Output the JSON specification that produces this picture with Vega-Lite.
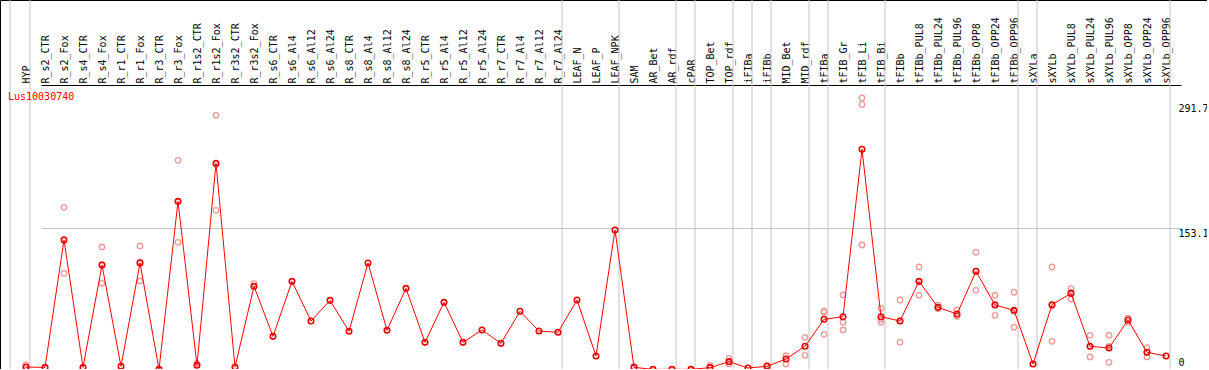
{
  "$schema": "https://vega.github.io/schema/vega-lite/v6.json",
  "width": 1207,
  "height": 369,
  "autosize": {"type": "none"},
  "padding": 0,
  "background": "white",
  "title": {"text": "Lus10030740", "anchor": "start", "frame": "group", "orient": "top", "offset": -102, "dx": 8, "baseline": "top", "color": "#ff0000", "font": "DejaVu Sans Mono", "fontSize": 10, "fontWeight": "normal"},
  "config": {
    "view": {"stroke": "#000000", "strokeWidth": 1},
    "font": "DejaVu Sans Mono"
  },
  "datasets": {
    "seps": [
      {"sample": "HYP"}, {"sample": "R_r7_Al24"}, {"sample": "LEAF_NPK"}, {"sample": "AR_rdf"}, {"sample": "cPAR"},
      {"sample": "TOP_rdf"}, {"sample": "iFIBa"}, {"sample": "iFIBb"}, {"sample": "MID_rdf"}, {"sample": "tFIBa"},
      {"sample": "tFIB_Bi"}, {"sample": "tFIBb_OPP96"}, {"sample": "sXYLa"}, {"sample": "sXYLb_OPP96"}
    ],
    "expr": [
      {"sample": "HYP", "kind": "m", "value": -1.5},
      {"sample": "HYP", "kind": "r", "value": 1.0},
      {"sample": "HYP", "kind": "r", "value": -1.5},
      {"sample": "R_s2_CTR", "kind": "m", "value": -1.9},
      {"sample": "R_s2_Fox", "kind": "m", "value": 140.1},
      {"sample": "R_s2_Fox", "kind": "r", "value": 176.5},
      {"sample": "R_s2_Fox", "kind": "r", "value": 102.9},
      {"sample": "R_s2_Fox", "kind": "r", "value": 140.9},
      {"sample": "R_s4_CTR", "kind": "m", "value": -1.9},
      {"sample": "R_s4_Fox", "kind": "m", "value": 112.2},
      {"sample": "R_s4_Fox", "kind": "r", "value": 132.3},
      {"sample": "R_s4_Fox", "kind": "r", "value": 91.8},
      {"sample": "R_s4_Fox", "kind": "r", "value": 112.5},
      {"sample": "R_r1_CTR", "kind": "m", "value": -0.7},
      {"sample": "R_r1_Fox", "kind": "m", "value": 114.5},
      {"sample": "R_r1_Fox", "kind": "r", "value": 133.4},
      {"sample": "R_r1_Fox", "kind": "r", "value": 94.4},
      {"sample": "R_r1_Fox", "kind": "r", "value": 115.7},
      {"sample": "R_r3_CTR", "kind": "m", "value": -4.1},
      {"sample": "R_r3_Fox", "kind": "m", "value": 183.2},
      {"sample": "R_r3_Fox", "kind": "r", "value": 228.9},
      {"sample": "R_r3_Fox", "kind": "r", "value": 137.5},
      {"sample": "R_r3_Fox", "kind": "r", "value": 183.2},
      {"sample": "R_r1s2_CTR", "kind": "m", "value": 0.4},
      {"sample": "R_r1s2_CTR", "kind": "r", "value": 2.6},
      {"sample": "R_r1s2_Fox", "kind": "m", "value": 225.6},
      {"sample": "R_r1s2_Fox", "kind": "r", "value": 279.1},
      {"sample": "R_r1s2_Fox", "kind": "r", "value": 173.2},
      {"sample": "R_r1s2_Fox", "kind": "r", "value": 224.5},
      {"sample": "R_r3s2_CTR", "kind": "m", "value": -1.5},
      {"sample": "R_r3s2_Fox", "kind": "m", "value": 88.4},
      {"sample": "R_r3s2_Fox", "kind": "r", "value": 91.4},
      {"sample": "R_s6_CTR", "kind": "m", "value": 32.7},
      {"sample": "R_s6_Al4", "kind": "m", "value": 94.0},
      {"sample": "R_s6_Al12", "kind": "m", "value": 49.8},
      {"sample": "R_s6_Al24", "kind": "m", "value": 72.8},
      {"sample": "R_s8_CTR", "kind": "m", "value": 38.3},
      {"sample": "R_s8_Al4", "kind": "m", "value": 114.5},
      {"sample": "R_s8_Al12", "kind": "m", "value": 39.4},
      {"sample": "R_s8_Al24", "kind": "m", "value": 86.2},
      {"sample": "R_r5_CTR", "kind": "m", "value": 26.0},
      {"sample": "R_r5_Al4", "kind": "m", "value": 70.6},
      {"sample": "R_r5_Al12", "kind": "m", "value": 26.0},
      {"sample": "R_r5_Al24", "kind": "m", "value": 39.8},
      {"sample": "R_r7_CTR", "kind": "m", "value": 24.9},
      {"sample": "R_r7_Al4", "kind": "m", "value": 60.6},
      {"sample": "R_r7_Al12", "kind": "m", "value": 38.6},
      {"sample": "R_r7_Al24", "kind": "m", "value": 37.2},
      {"sample": "LEAF_N", "kind": "m", "value": 73.2},
      {"sample": "LEAF_P", "kind": "m", "value": 10.8},
      {"sample": "LEAF_NPK", "kind": "m", "value": 151.2},
      {"sample": "SAM", "kind": "m", "value": -1.9},
      {"sample": "SAM", "kind": "r", "value": -1.1},
      {"sample": "AR_Bet", "kind": "m", "value": -4.1},
      {"sample": "AR_rdf", "kind": "m", "value": -4.1},
      {"sample": "cPAR", "kind": "m", "value": -4.1},
      {"sample": "TOP_Bet", "kind": "m", "value": -2.2},
      {"sample": "TOP_Bet", "kind": "r", "value": 0.4},
      {"sample": "TOP_Bet", "kind": "r", "value": -1.1},
      {"sample": "TOP_rdf", "kind": "m", "value": 4.5},
      {"sample": "TOP_rdf", "kind": "r", "value": 8.2},
      {"sample": "TOP_rdf", "kind": "r", "value": 1.9},
      {"sample": "iFIBa", "kind": "m", "value": -2.6},
      {"sample": "iFIBb", "kind": "m", "value": -0.7},
      {"sample": "iFIBb", "kind": "r", "value": 0.4},
      {"sample": "MID_Bet", "kind": "m", "value": 7.4},
      {"sample": "MID_Bet", "kind": "r", "value": 11.1},
      {"sample": "MID_Bet", "kind": "r", "value": 1.9},
      {"sample": "MID_rdf", "kind": "m", "value": 21.6},
      {"sample": "MID_rdf", "kind": "r", "value": 31.6},
      {"sample": "MID_rdf", "kind": "r", "value": 11.5},
      {"sample": "tFIBa", "kind": "m", "value": 51.7},
      {"sample": "tFIBa", "kind": "r", "value": 60.9},
      {"sample": "tFIBa", "kind": "r", "value": 59.5},
      {"sample": "tFIBa", "kind": "r", "value": 34.9},
      {"sample": "tFIB_Gr", "kind": "m", "value": 54.6},
      {"sample": "tFIB_Gr", "kind": "r", "value": 78.8},
      {"sample": "tFIB_Gr", "kind": "r", "value": 48.3},
      {"sample": "tFIB_Gr", "kind": "r", "value": 39.8},
      {"sample": "tFIB_Li", "kind": "m", "value": 241.2},
      {"sample": "tFIB_Li", "kind": "r", "value": 298.4},
      {"sample": "tFIB_Li", "kind": "r", "value": 291.0},
      {"sample": "tFIB_Li", "kind": "r", "value": 134.5},
      {"sample": "tFIB_Bi", "kind": "m", "value": 54.6},
      {"sample": "tFIB_Bi", "kind": "r", "value": 63.9},
      {"sample": "tFIB_Bi", "kind": "r", "value": 48.3},
      {"sample": "tFIB_Bi", "kind": "r", "value": 51.6},
      {"sample": "tFIBb", "kind": "m", "value": 49.8},
      {"sample": "tFIBb", "kind": "r", "value": 73.2},
      {"sample": "tFIBb", "kind": "r", "value": 26.0},
      {"sample": "tFIBb", "kind": "r", "value": 50.0},
      {"sample": "tFIBb_PUL8", "kind": "m", "value": 94.0},
      {"sample": "tFIBb_PUL8", "kind": "r", "value": 110.0},
      {"sample": "tFIBb_PUL8", "kind": "r", "value": 78.4},
      {"sample": "tFIBb_PUL8", "kind": "r", "value": 93.6},
      {"sample": "tFIBb_PUL24", "kind": "m", "value": 65.0},
      {"sample": "tFIBb_PUL24", "kind": "r", "value": 67.6},
      {"sample": "tFIBb_PUL24", "kind": "r", "value": 63.9},
      {"sample": "tFIBb_PUL24", "kind": "r", "value": 63.6},
      {"sample": "tFIBb_PUL96", "kind": "m", "value": 57.6},
      {"sample": "tFIBb_PUL96", "kind": "r", "value": 62.1},
      {"sample": "tFIBb_PUL96", "kind": "r", "value": 55.7},
      {"sample": "tFIBb_PUL96", "kind": "r", "value": 55.0},
      {"sample": "tFIBb_OPP8", "kind": "m", "value": 105.2},
      {"sample": "tFIBb_OPP8", "kind": "r", "value": 126.3},
      {"sample": "tFIBb_OPP8", "kind": "r", "value": 84.0},
      {"sample": "tFIBb_OPP8", "kind": "r", "value": 105.3},
      {"sample": "tFIBb_OPP24", "kind": "m", "value": 67.6},
      {"sample": "tFIBb_OPP24", "kind": "r", "value": 78.4},
      {"sample": "tFIBb_OPP24", "kind": "r", "value": 56.1},
      {"sample": "tFIBb_OPP24", "kind": "r", "value": 68.3},
      {"sample": "tFIBb_OPP96", "kind": "m", "value": 61.7},
      {"sample": "tFIBb_OPP96", "kind": "r", "value": 81.8},
      {"sample": "tFIBb_OPP96", "kind": "r", "value": 42.7},
      {"sample": "tFIBb_OPP96", "kind": "r", "value": 60.6},
      {"sample": "sXYLa", "kind": "m", "value": 1.9},
      {"sample": "sXYLb", "kind": "m", "value": 68.0},
      {"sample": "sXYLb", "kind": "r", "value": 110.0},
      {"sample": "sXYLb", "kind": "r", "value": 27.1},
      {"sample": "sXYLb", "kind": "r", "value": 67.0},
      {"sample": "sXYLb_PUL8", "kind": "m", "value": 80.6},
      {"sample": "sXYLb_PUL8", "kind": "r", "value": 85.8},
      {"sample": "sXYLb_PUL8", "kind": "r", "value": 74.3},
      {"sample": "sXYLb_PUL8", "kind": "r", "value": 81.8},
      {"sample": "sXYLb_PUL24", "kind": "m", "value": 21.6},
      {"sample": "sXYLb_PUL24", "kind": "r", "value": 33.8},
      {"sample": "sXYLb_PUL24", "kind": "r", "value": 9.7},
      {"sample": "sXYLb_PUL24", "kind": "r", "value": 21.3},
      {"sample": "sXYLb_PUL96", "kind": "m", "value": 19.7},
      {"sample": "sXYLb_PUL96", "kind": "r", "value": 33.8},
      {"sample": "sXYLb_PUL96", "kind": "r", "value": 3.7},
      {"sample": "sXYLb_PUL96", "kind": "r", "value": 21.6},
      {"sample": "sXYLb_OPP8", "kind": "m", "value": 50.9},
      {"sample": "sXYLb_OPP8", "kind": "r", "value": 53.1},
      {"sample": "sXYLb_OPP8", "kind": "r", "value": 48.3},
      {"sample": "sXYLb_OPP8", "kind": "r", "value": 51.0},
      {"sample": "sXYLb_OPP24", "kind": "m", "value": 14.9},
      {"sample": "sXYLb_OPP24", "kind": "r", "value": 20.1},
      {"sample": "sXYLb_OPP24", "kind": "r", "value": 9.7},
      {"sample": "sXYLb_OPP24", "kind": "r", "value": 14.9},
      {"sample": "sXYLb_OPP96", "kind": "m", "value": 10.8}
    ]
  },
  "encoding": {
    "x": {
      "field": "sample",
      "type": "ordinal",
      "sort": null,
      "scale": {
        "type": "point",
        "domain": ["HYP", "R_s2_CTR", "R_s2_Fox", "R_s4_CTR", "R_s4_Fox", "R_r1_CTR", "R_r1_Fox", "R_r3_CTR", "R_r3_Fox", "R_r1s2_CTR", "R_r1s2_Fox", "R_r3s2_CTR", "R_r3s2_Fox", "R_s6_CTR", "R_s6_Al4", "R_s6_Al12", "R_s6_Al24", "R_s8_CTR", "R_s8_Al4", "R_s8_Al12", "R_s8_Al24", "R_r5_CTR", "R_r5_Al4", "R_r5_Al12", "R_r5_Al24", "R_r7_CTR", "R_r7_Al4", "R_r7_Al12", "R_r7_Al24", "LEAF_N", "LEAF_P", "LEAF_NPK", "SAM", "AR_Bet", "AR_rdf", "cPAR", "TOP_Bet", "TOP_rdf", "iFIBa", "iFIBb", "MID_Bet", "MID_rdf", "tFIBa", "tFIB_Gr", "tFIB_Li", "tFIB_Bi", "tFIBb", "tFIBb_PUL8", "tFIBb_PUL24", "tFIBb_PUL96", "tFIBb_OPP8", "tFIBb_OPP24", "tFIBb_OPP96", "sXYLa", "sXYLb", "sXYLb_PUL8", "sXYLb_PUL24", "sXYLb_PUL96", "sXYLb_OPP8", "sXYLb_OPP24", "sXYLb_OPP96"],
        "range": [26, 1166],
        "padding": 0,
        "round": false
      },
      "axis": {
        "orient": "top",
        "offset": -85,
        "title": null,
        "grid": false,
        "ticks": false,
        "domain": false,
        "labelAngle": 270,
        "labelAlign": "left",
        "labelBaseline": "middle",
        "labelPadding": 2,
        "labelFont": "DejaVu Sans Mono",
        "labelFontSize": 10,
        "labelColor": "#000000",
        "labelOverlap": false,
        "labelLimit": 200
      }
    }
  },
  "layer": [
    {
      "data": {"name": "seps"},
      "mark": {"type": "rule", "color": "#c4c4c4", "strokeWidth": 1, "xOffset": 4},
      "encoding": {}
    },
    {
      "data": {"values": [{"sample": "HYP"}]},
      "mark": {"type": "rule", "color": "#c4c4c4", "strokeWidth": 1, "xOffset": -16},
      "encoding": {}
    },
    {
      "data": {"name": "expr"},
      "encoding": {
        "y": {
          "field": "value",
          "type": "quantitative",
          "scale": {"domain": [-3.7, 407.6], "nice": false, "zero": false},
          "axis": {
            "orient": "right",
            "offset": -37,
            "title": null,
            "values": [0, 153.1, 291.7, 312.9],
            "labelExpr": "datum.value === 0 ? '0' : (datum.value > 300 ? '' : format(datum.value, '.1f'))",
            "domain": false,
            "ticks": false,
            "tickSize": 0,
            "labelPadding": 8,
            "labelAlign": "left",
            "labelBaseline": {"condition": {"test": "datum.value === 0", "value": "alphabetic"}, "value": "top"},
            "labelFont": "DejaVu Sans Mono",
            "labelFontSize": 10,
            "labelColor": "#000000",
            "grid": true,
            "gridWidth": 1,
            "gridColor": {"condition": {"test": "datum.value > 300", "value": "#000000"}, "value": "#c4c4c4"},
            "gridOpacity": {"condition": {"test": "datum.value === 153.1 || datum.value > 300", "value": 1}, "value": 0}
          }
        }
      },
      "layer": [
        {
          "transform": [{"filter": "datum.kind === 'r'"}],
          "mark": {"type": "point", "shape": "circle", "filled": false, "size": 30, "strokeWidth": 1.3, "color": "#f09898", "opacity": 1}
        },
        {
          "transform": [{"filter": "datum.kind === 'm'"}],
          "mark": {"type": "line", "color": "#ff0000", "strokeWidth": 1}
        },
        {
          "transform": [{"filter": "datum.kind === 'm'"}],
          "mark": {"type": "point", "shape": "circle", "filled": false, "size": 30, "strokeWidth": 1.6, "color": "#e80000", "opacity": 1}
        }
      ]
    }
  ]
}
